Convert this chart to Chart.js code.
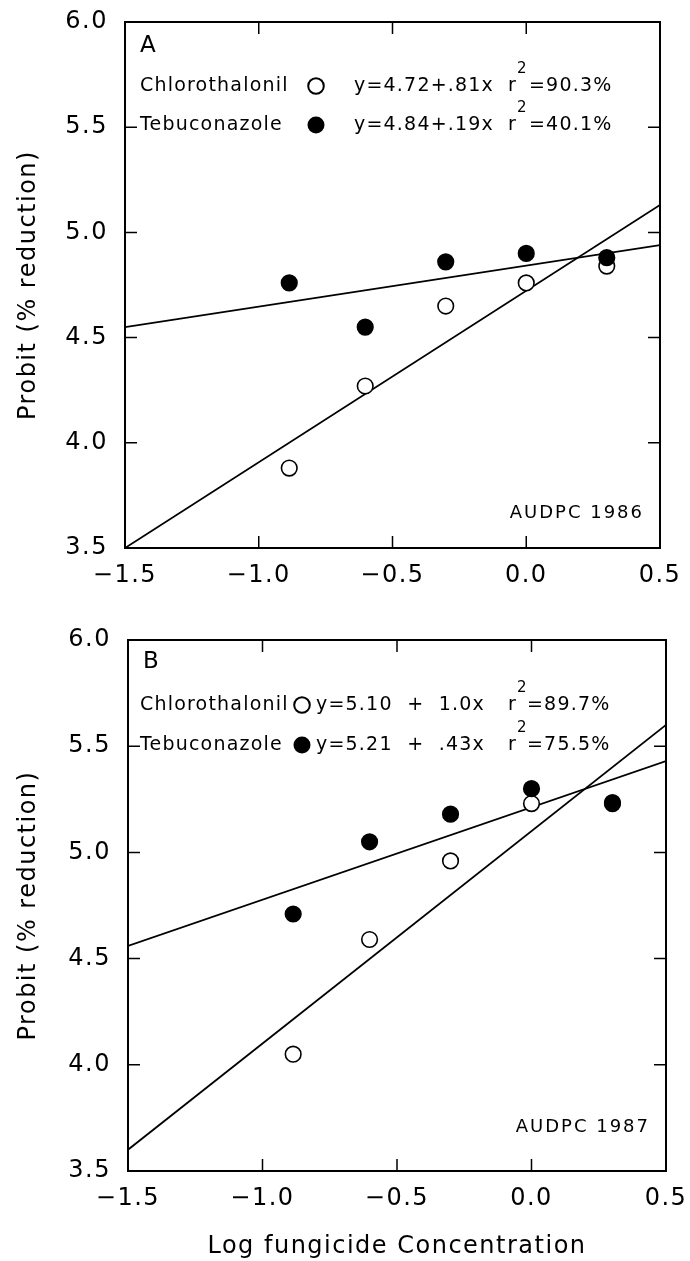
<!DOCTYPE html>
<html>
<head>
<meta charset="utf-8">
<script src="https://cdn.jsdelivr.net/npm/chart.js@4.4.1/dist/chart.umd.min.js"></script>
<style>
  html, body { margin: 0; padding: 0; background: #fff; }
  .panel { position: absolute; left: 0; width: 690px; }
  #wrapA { top: 0; height: 610px; }
  #wrapB { top: 620px; height: 641px; }
</style>
</head>
<body>
<div class="panel" id="wrapA"><canvas id="chartA" width="690" height="610"></canvas></div>
<div class="panel" id="wrapB"><canvas id="chartB" width="690" height="641"></canvas></div>
<script>
// log10 of the fungicide concentrations
const logConc = [-0.886, -0.602, -0.301, 0.0, 0.301];

// probit values
const chloroA = [3.88, 4.27, 4.65, 4.76, 4.84];
const tebuA   = [4.76, 4.55, 4.86, 4.90, 4.88];
const chloroB = [4.05, 4.59, 4.96, 5.23, 5.23];
const tebuB   = [4.71, 5.05, 5.18, 5.30, 5.235];

// fitted lines, end points at the edges of the x range
const fitX = [-1.5, 0.5];
const chloroFitA = [3.50, 5.13];
const tebuFitA   = [4.55, 4.94];
const chloroFitB = [3.60, 5.60];
const tebuFitB   = [4.56, 5.43];

const xTicks = [-1.5, -1.0, -0.5, 0.0, 0.5];
const yTicks = [3.5, 4.0, 4.5, 5.0, 5.5, 6.0];

const seriesNames = ['Chlorothalonil', 'Tebuconazole'];
const equationsA = ['y=4.72+.81x', 'y=4.84+.19x'];
const rSquaredA  = ['=90.3%', '=40.1%'];
const equationsB = ['y=5.10  +  1.0x', 'y=5.21  +  .43x'];
const rSquaredB  = ['=89.7%', '=75.5%'];

const FONT = '"DejaVu Sans", sans-serif';

const pts = (xs, ys) => xs.map((x, i) => ({ x, y: ys[i] }));
const fmt = v => v.toFixed(1).replace('-', '\u2212');

// frame, inward ticks, legend text and the AUDPC tag
const panelText = {
  id: 'panelText',
  beforeDraw(chart) {
    chart.ctx.letterSpacing = '1.5px';
  },
  afterDraw(chart, args, o) {
    const ctx = chart.ctx;
    const { left, right, top, bottom } = chart.chartArea;
    const xs = chart.scales.x, ys = chart.scales.y;
    ctx.save();
    ctx.strokeStyle = '#000';
    ctx.fillStyle = '#000';
    ctx.lineWidth = 1.5;
    ctx.beginPath();
    xs.ticks.forEach(t => {
      if (t.value <= xs.min + 1e-9 || t.value >= xs.max - 1e-9) return;
      const px = xs.getPixelForValue(t.value);
      ctx.moveTo(px, bottom); ctx.lineTo(px, bottom - 12);
      ctx.moveTo(px, top); ctx.lineTo(px, top + 12);
    });
    ys.ticks.forEach(t => {
      if (t.value <= ys.min + 1e-9 || t.value >= ys.max - 1e-9) return;
      const py = ys.getPixelForValue(t.value);
      ctx.moveTo(left, py); ctx.lineTo(left + 12, py);
      ctx.moveTo(right, py); ctx.lineTo(right - 12, py);
    });
    ctx.stroke();
    ctx.lineWidth = 2;
    ctx.strokeRect(left, top, right - left, bottom - top);

    ctx.textBaseline = 'middle';
    ctx.textAlign = 'left';
    ctx.letterSpacing = '0px';
    ctx.font = '23px ' + FONT;
    ctx.fillText(o.letter, left + o.letterX, top + o.letterY);

    ctx.letterSpacing = '1.2px';
    seriesNames.forEach((name, i) => {
      const y = top + o.rowY[i];
      ctx.font = '19px ' + FONT;
      ctx.fillText(name, left + o.nameX, y);
      ctx.fillText(o.eq[i], left + o.eqX, y);
      ctx.fillText('r', left + o.rX, y);
      ctx.fillText(o.r2[i], left + o.r2X, y);
      ctx.font = '15px ' + FONT;
      ctx.fillText('2', left + o.rX + 9, y - 17);
      ctx.beginPath();
      if (i === 1) {
        ctx.arc(left + o.markX, y, 8.5, 0, Math.PI * 2);
        ctx.fill();
      } else {
        ctx.arc(left + o.markX, y, 7.8, 0, Math.PI * 2);
        ctx.lineWidth = 2;
        ctx.stroke();
      }
    });

    ctx.letterSpacing = '2px';
    ctx.font = '18px ' + FONT;
    ctx.textAlign = 'right';
    ctx.fillText(o.tag, right - o.tagDx, bottom - o.tagDy);
    ctx.restore();
  }
};

function makeChart(id, d) {
  return new Chart(document.getElementById(id), {
    type: 'scatter',
    data: {
      datasets: [
        {
          label: 'Tebuconazole',
          data: pts(logConc, d.tebu),
          pointRadius: 7.8,
          pointBackgroundColor: '#000',
          pointBorderColor: '#000',
          pointBorderWidth: 1.6,
          order: 0,
        },
        {
          label: 'Chlorothalonil',
          data: pts(logConc, d.chloro),
          pointRadius: 7.8,
          pointBackgroundColor: '#fff',
          pointBorderColor: '#000',
          pointBorderWidth: 1.6,
          order: 1,
        },
        {
          label: 'Chlorothalonil fit',
          data: pts(fitX, d.chloroFit),
          showLine: true,
          borderColor: '#000',
          borderWidth: 1.8,
          pointRadius: 0,
          order: 2,
        },
        {
          label: 'Tebuconazole fit',
          data: pts(fitX, d.tebuFit),
          showLine: true,
          borderColor: '#000',
          borderWidth: 1.8,
          pointRadius: 0,
          order: 2,
        },
      ],
    },
    options: {
      responsive: false,
      animation: false,
      devicePixelRatio: 1,
      events: [],
      layout: { padding: d.padding },
      plugins: {
        legend: { display: false },
        tooltip: { enabled: false },
        panelText: d.text,
      },
      scales: {
        x: {
          type: 'linear',
          min: -1.5,
          max: 0.5,
          afterBuildTicks: s => { s.ticks = xTicks.map(v => ({ value: v })); },
          afterFit: s => { s.height = d.xHeight; },
          // tick marks are drawn by the plugin; tickLength only spaces the labels
          grid: { display: false, drawTicks: true, tickLength: 13 },
          border: { display: false },
          ticks: {
            color: '#000',
            font: { family: FONT, size: 24 },
            padding: 0,
            maxRotation: 0,
            autoSkip: false,
            callback: v => fmt(v),
          },
          title: {
            display: d.xTitle,
            text: 'Log fungicide Concentration',
            color: '#000',
            font: { family: FONT, size: 24 },
            padding: { top: 0, bottom: 0 },
          },
        },
        y: {
          min: 3.5,
          max: 6.0,
          afterBuildTicks: s => { s.ticks = yTicks.map(v => ({ value: v })); },
          afterFit: s => { s.width = d.yWidth; },
          grid: { display: false, drawTicks: true, tickLength: 17 },
          border: { display: false },
          ticks: {
            color: '#000',
            font: { family: FONT, size: 24 },
            padding: 0,
            callback: v => fmt(v),
          },
          title: {
            display: true,
            text: 'Probit (% reduction)',
            color: '#000',
            font: { family: FONT, size: 24 },
            padding: { top: 14, bottom: 0 },
          },
        },
      },
    },
    plugins: [panelText],
  });
}

makeChart('chartA', {
  chloro: chloroA, tebu: tebuA, chloroFit: chloroFitA, tebuFit: tebuFitA,
  padding: { left: 0, right: 30, top: 22, bottom: 0 },
  xHeight: 62, yWidth: 125, xTitle: false,
  text: {
    letter: 'A', letterX: 15, letterY: 24,
    rowY: [64, 103], nameX: 15, markX: 191, eqX: 229, rX: 383, r2X: 404,
    eq: equationsA, r2: rSquaredA,
    tag: 'AUDPC 1986', tagDx: 16, tagDy: 35,
  },
});

makeChart('chartB', {
  chloro: chloroB, tebu: tebuB, chloroFit: chloroFitB, tebuFit: tebuFitB,
  padding: { left: 0, right: 24, top: 20, bottom: 0 },
  xHeight: 90, yWidth: 128, xTitle: true,
  text: {
    letter: 'B', letterX: 15, letterY: 22,
    rowY: [65, 105], nameX: 12, markX: 174, eqX: 188, rX: 380, r2X: 399,
    eq: equationsB, r2: rSquaredB,
    tag: 'AUDPC 1987', tagDx: 16, tagDy: 44,
  },
});
</script>
</body>
</html>
